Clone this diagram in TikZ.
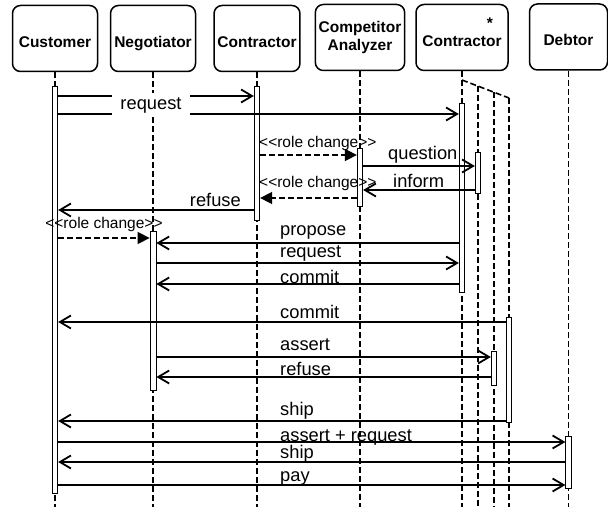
\documentclass[tikz,border=0pt]{standalone}
\usepackage{fontspec}
\setmainfont{Liberation Sans}
\usetikzlibrary{arrows.meta}

\tikzset{
	headbox/.style={draw, rounded corners=8pt, line width=1.5pt, minimum width=85pt,
		minimum height=66pt, align=center, font=\fontsize{15.5}{18}\selectfont\bfseries},
	head/.style={headbox, text height=18pt, text depth=0pt},
	life/.style={dash pattern=on 6pt off 3pt, line width=1.6pt},
	act/.style={draw, fill=white, line width=0.8pt, inner sep=0pt, minimum width=5.5pt},
	msg/.style={line width=1.8pt, -{Straight Barb[length=11pt,width=13pt]}},
	rolemsg/.style={line width=1.6pt, dash pattern=on 6pt off 3pt,
		-{Triangle[length=12pt,width=12pt]}},
	lbl/.style={anchor=base west, inner sep=0pt, font=\fontsize{18.3}{20}\selectfont},
	rolelbl/.style={anchor=base west, inner sep=0pt, font=\fontsize{15.5}{18}\selectfont},
}

\begin{document}
\begin{tikzpicture}[x=1pt, y=-1pt]
	\useasboundingbox (0,0) rectangle (608,508);

	\node[head] (cust) at (55,38.5) {Customer};
	\node[head] (neg) at (153,38.5) {Negotiator};
	\node[head] (con) at (257,38.5) {Contractor};
	\node[headbox] (ca) at (360,37.5) {Competitor\\Analyzer};
	\node[head, minimum width=92pt] (cst) at (462,37.5) {Contractor};
	\node[head, minimum width=78pt] (deb) at (568.5,37) {Debtor};
	\node[font=\fontsize{15.5}{18}\selectfont\bfseries, anchor=base, inner sep=0pt] (star) at (490,28.5) {*};

	\foreach \n in {cust, neg, con, ca, cst, deb}
	\draw[life] (\n.south) -- (\n.south |- 0,507);

	\draw[life] (cst.south |- 0,80) -- (509,98);
	\foreach \x/\y in {478/86, 494/92, 509/98}
	\draw[life] (\x,\y) -- (\x,507);

	\node[act, minimum height=407pt] (aCust) at (55,289.5) {};
	\node[act, minimum height=134pt] (aCon) at (257,153) {};
	\node[act, minimum height=189pt] (aCst) at (462,197.5) {};
	\node[act, minimum height=58pt] (aCa) at (360,177) {};
	\node[act, minimum height=41pt] (aCst2) at (478,172.5) {};
	\node[act, minimum height=159pt, minimum width=6pt] (aNeg) at (153,310.5) {};
	\node[act, minimum height=105pt] (aCst4) at (509,369.5) {};
	\node[act, minimum height=34pt] (aCst3) at (494,368) {};
	\node[act, minimum height=52pt] (aDeb) at (568.5,462) {};

	\draw[msg] (aCust.east |- 0,96) -- (aCon.west |- 0,96);
	\draw[msg] (aCust.east |- 0,114) -- (aCst.west |- 0,114);
	\node[fill=white, minimum width=78pt, minimum height=24pt, inner sep=0pt,
		font=\fontsize{18.3}{20}\selectfont] (mReq) at (151,105) {request};

	\draw[rolemsg] (aCon.east |- 0,155) -- (aCa.west |- 0,155);
	\node[rolelbl] (rc1) at (259,148) {<{}<role change>{}>};
	\draw[msg] (aCa.east |- 0,166) -- (aCst2.west |- 0,166);
	\node[lbl] (mQues) at (388,160) {question};
	\draw[msg] (aCst2.west |- 0,190) -- (aCa.east |- 0,190);
	\node[lbl] (mInf) at (393,188) {inform};
	\draw[rolemsg] (aCa.west |- 0,198) -- (aCon.east |- 0,198);
	\node[rolelbl] (rc2) at (259,188) {<{}<role change>{}>};
	\draw[msg] (aCon.west |- 0,210) -- (aCust.east |- 0,210);
	\node[lbl, anchor=base east] (mRef) at (241,207) {refuse};
	\draw[rolemsg] (aCust.east |- 0,238) -- (aNeg.west |- 0,238);
	\node[rolelbl, anchor=base] (rc3) at (104,228) {<{}<role change>{}>};

	\foreach \from/\to/\y/\b/\txt [count=\i] in {
		aCst.west/aNeg.east/243/235/propose,
		aNeg.east/aCst.west/263/257/request,
		aCst.west/aNeg.east/284/283/commit,
		aCst4.west/aCust.east/322/318/commit,
		aNeg.east/aCst3.west/357/350/assert,
		aCst3.west/aNeg.east/377/375/refuse,
		aCst4.west/aCust.east/421/415/ship,
		aCust.east/aDeb.west/442/441/assert + request,
		aDeb.west/aCust.east/462/458/ship,
		aCust.east/aDeb.west/485/481/pay}
	{
		\draw[msg] (\from |- 0,\y) -- (\to |- 0,\y);
		\node[lbl] (msg\i) at (280,\b) {\txt};
	}
\end{tikzpicture}
\end{document}
